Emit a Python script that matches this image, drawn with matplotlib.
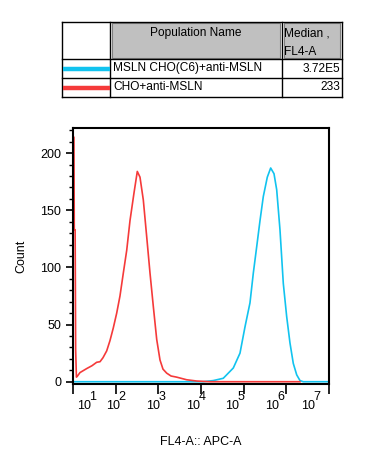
import matplotlib
matplotlib.use("Agg")
import matplotlib.pyplot as plt
from matplotlib.patches import Rectangle
from matplotlib.transforms import offset_copy
import numpy as np

plt.rcParams['font.family'] = ['Liberation Sans', 'DejaVu Sans']

# populations shown in the legend table
pop_names = ["MSLN CHO(C6)+anti-MSLN", "CHO+anti-MSLN"]
pop_medians = ["3.72E5", "233"]
pop_colors = ["#11C3EF", "#F53A3A"]

# histogram: log10(FL4-A) and count
red_exp = [1.005, 1.022, 1.030, 1.050, 1.062, 1.080, 1.105, 1.164, 1.321, 1.445,
           1.555, 1.633, 1.703, 1.790, 1.867, 1.944, 2.024, 2.101, 2.179, 2.259,
           2.336, 2.429, 2.507, 2.570, 2.648, 2.727, 2.805, 2.882, 2.962, 3.039,
           3.109, 3.196, 3.297, 3.430, 3.665, 3.899, 4.210, 6.320]
red_count = [214, 214, 133, 133, 28, 4, 5, 8, 11.5, 14,
             17, 17.5, 21, 27, 36, 47, 60, 75, 95, 115,
             141, 165, 184, 179, 159, 127, 95, 66, 37, 19,
             11, 7.5, 5, 4, 1.7, 0.6, 0, 0]

blue_exp = [1.0, 4.054, 4.288, 4.522, 4.757, 4.914, 5.031, 5.148, 5.226, 5.305,
            5.383, 5.460, 5.554, 5.633, 5.711, 5.774, 5.851, 5.929, 6.008, 6.085,
            6.163, 6.243, 6.320, 6.397, 7.0]
blue_count = [0, 0, 1, 3, 12, 25, 48, 69, 95, 118,
              141, 162, 179, 187, 182, 168, 133, 86, 57, 34,
              16, 6, 1, 0, 0]

decades = [1, 2, 3, 4, 5, 6, 7]
# where the exported picture puts the "10" of each decade label (axes fraction)
decade_label_pos = [0.043, 0.156, 0.312, 0.469, 0.621, 0.777, 0.918]

W, H = 367, 466
fig = plt.figure(figsize=(W / 100, H / 100), dpi=100)

# ---- legend table, drawn in pixel units ----
tab = fig.add_axes([0, 0, 1, 1])
tab.set_xlim(0, W)
tab.set_ylim(H, 0)
tab.axis("off")

x0, x1, x2, x3 = 62, 110, 282, 342
y0, y1, y2, y3 = 22, 59, 78, 97
for (a, b) in [(112, 280), (284, 340)]:
    tab.add_patch(Rectangle((a, y0 + 1), b - a, y1 - y0 - 2, facecolor="#C0C0C0",
                            edgecolor="#808080", lw=0.8))
for x in [x0, x1, x2, x3]:
    tab.plot([x, x], [y0, y3], color="black", lw=1.0)
for y in [y0, y1, y2, y3]:
    tab.plot([x0, x3], [y, y], color="black", lw=1.0)

tab.text((112 + 280) / 2, 33, "Population Name", ha="center", va="center", fontsize=8.6)
tab.text(284, 33, "Median ,", ha="left", va="center", fontsize=8.6)
tab.text(284, 52, "FL4-A", ha="left", va="center", fontsize=8.6)
for i, (name, med, col) in enumerate(zip(pop_names, pop_medians, pop_colors)):
    yc = (y1 + y2) / 2 if i == 0 else (y2 + y3) / 2
    tab.plot([x0 + 1, x1], [yc, yc], color=col, lw=3.2, solid_capstyle="butt")
    tab.text(113, yc, name, ha="left", va="center", fontsize=8.6)
    tab.text(340, yc, med, ha="right", va="center", fontsize=8.6)

# ---- histogram ----
ax = fig.add_axes([73 / W, 1 - 384 / H, 256 / W, 256 / H])
ax.plot(10 ** np.array(blue_exp), blue_count, color=pop_colors[0], lw=1.2)
ax.plot(10 ** np.array(red_exp), red_count, color=pop_colors[1], lw=1.2)

ax.set_xscale("log")
ax.set_xlim(10, 1e7)
ax.set_ylim(-2, 222)
ax.set_xticks([10.0 ** d for d in decades])
ax.set_xticklabels([])
ax.xaxis.set_minor_locator(matplotlib.ticker.LogLocator(base=10, subs=np.arange(2, 10)))
ax.xaxis.set_minor_formatter(matplotlib.ticker.NullFormatter())
ax.set_yticks([0, 50, 100, 150, 200])
ax.set_yticks(np.arange(0, 221, 10), minor=True)
ax.tick_params(axis="x", which="major", length=7, width=1.2)
ax.tick_params(axis="y", which="major", length=5, width=1.2, labelsize=9)
ax.tick_params(axis="both", which="minor", length=3, width=1.0)
for s in ax.spines.values():
    s.set_linewidth(1.5)

# FlowJo style decade labels: "10" with a raised full-size exponent
for d, pos in zip(decades, decade_label_pos):
    ax.text(pos, -0.087, "10", transform=ax.transAxes,
            ha="center", va="center", fontsize=9)
    sup = offset_copy(ax.transAxes, fig=fig, x=9, y=9, units="dots")
    ax.text(pos, -0.087, str(d), transform=sup,
            ha="center", va="center", fontsize=9)

ax.set_ylabel("Count", fontsize=9, labelpad=9)
ax.set_xlabel("FL4-A:: APC-A", fontsize=9, labelpad=27)

fig.savefig("out.png", dpi=100)
